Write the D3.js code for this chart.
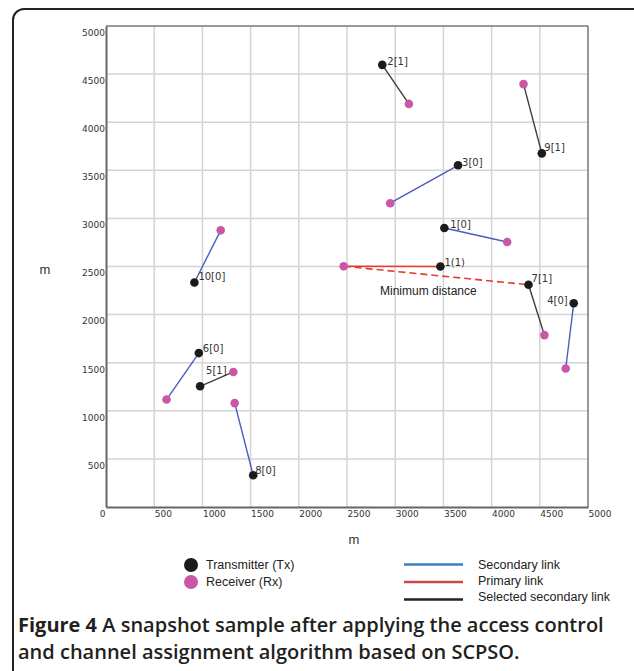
<!DOCTYPE html>
<html><head><meta charset="utf-8">
<script src="https://cdn.jsdelivr.net/npm/d3@7"></script>
<style>
html,body{margin:0;padding:0;background:#fff;}
svg{display:block;}
</style></head>
<body>
<svg id="chart" width="634" height="671"></svg>
<script>
// ---- data (metres) ----
const linkIds     = ["1[0]","2[1]","3[0]","4[0]","5[1]","6[0]","7[1]","8[0]","9[1]","10[0]"];
const linkTypes   = ["secondary","selected","secondary","secondary","selected","secondary","selected","secondary","selected","secondary"];
const txX = [3510, 2866, 3652, 4852,  976,  963, 4383, 1527, 4521,  917];
const txY = [2900, 4596, 3552, 2118, 1255, 1600, 2310,  330, 3676, 2334];
const rxX = [4162, 3142, 2948, 4769, 1321,  628, 4548, 1335, 4331, 1190];
const rxY = [2755, 4190, 3158, 1440, 1404, 1117, 1787, 1080, 4396, 2876];
const primaryLabel = "1(1)";
const primaryTx = [3469, 2500];
const primaryRx = [2466, 2503];
const minDistanceTo = "7[1]";
const tickValues = [0, 500, 1000, 1500, 2000, 2500, 3000, 3500, 4000, 4500, 5000];
const legendPoints = ["Transmitter (Tx)", "Receiver (Rx)"];
const legendLines  = ["Secondary link", "Primary link", "Selected secondary link"];
const captionBold = "Figure 4";
const captionLine1 = " A snapshot sample after applying the access control";
const captionLine2 = "and channel assignment algorithm based on SCPSO.";

// ---- layout / style ----
const labelOffsets = {"1[0]":[6,-4],"2[1]":[5,-3],"3[0]":[4,-3],"4[0]":[-6,-3],"5[1]":[6,-16],
  "6[0]":[4,-5],"7[1]":[3,-6],"8[0]":[2,-5],"9[1]":[2.5,-6],"10[0]":[4,-6],"1(1)":[4,-4]};
const linkColor = {secondary:"#4b5cc0", selected:"#3c3c3c"};
const TX = "#1b1b1b", RX = "#c957a6", RED = "#e63a2c";

const svg = d3.select("#chart");
// outer frame
svg.append("rect").attr("x",13).attr("y",9).attr("width",640).attr("height",720)
  .attr("rx",11).attr("fill","none").attr("stroke","#222").attr("stroke-width",2);

const x = d3.scaleLinear().domain([0,5000]).range([106,588]);
const y = d3.scaleLinear().domain([0,5000]).range([507,26]);

const g = svg.append("g");
// grid
g.selectAll("line.gx").data(tickValues.slice(1,-1)).join("line")
  .attr("x1",d=>x(d)).attr("x2",d=>x(d)).attr("y1",y(0)).attr("y2",y(5000))
  .attr("stroke","#d4d4d4").attr("stroke-width",1.5);
g.selectAll("line.gy").data(tickValues.slice(1,-1)).join("line")
  .attr("y1",d=>y(d)).attr("y2",d=>y(d)).attr("x1",x(0)).attr("x2",x(5000))
  .attr("stroke","#d4d4d4").attr("stroke-width",1.5);
// border
g.append("line").attr("x1",x(0)).attr("x2",x(5000)).attr("y1",y(5000)).attr("y2",y(5000)).attr("stroke","#777").attr("stroke-width",1.5);
g.append("line").attr("x1",x(5000)).attr("x2",x(5000)).attr("y1",y(0)).attr("y2",y(5000)).attr("stroke","#777").attr("stroke-width",1.5);

// axes
const fmt = d3.format("d");
const xAxis = d3.axisBottom(x).tickValues(tickValues).tickFormat(fmt).tickSize(0).tickPadding(0);
const ax = svg.append("g").attr("transform",`translate(0,${y(0)})`).call(xAxis);
ax.select(".domain").attr("stroke","#666").attr("stroke-width",2);
ax.selectAll("text").attr("font-family","DejaVu Sans").attr("font-size",9).attr("fill","#333")
  .attr("dy",null).attr("y",10).attr("text-anchor",d=>d===0?"end":"start").attr("x",d=>d===0?-1:0);
const yAxis = d3.axisLeft(y).tickValues(tickValues.slice(1)).tickFormat(fmt).tickSize(0).tickPadding(1);
const ay = svg.append("g").attr("transform",`translate(${x(0)},0)`).call(yAxis);
ay.select(".domain").attr("stroke","#666").attr("stroke-width",2);
ay.selectAll("text").attr("font-family","DejaVu Sans").attr("font-size",9).attr("fill","#333")
  .attr("dy","0.32em").attr("y",6.5);

// axis titles
svg.append("text").attr("x",45).attr("y",274).attr("text-anchor","middle")
  .attr("font-family","Liberation Sans").attr("font-size",13).attr("fill","#333").text("m");
svg.append("text").attr("x",354).attr("y",544).attr("text-anchor","middle")
  .attr("font-family","Liberation Sans").attr("font-size",13).attr("fill","#333").text("m");

// links data
const links = linkIds.map((id,i)=>({id, type:linkTypes[i], tx:[txX[i],txY[i]], rx:[rxX[i],rxY[i]]}));

// link lines
svg.append("g").selectAll("line").data(links).join("line")
  .attr("x1",d=>x(d.tx[0])).attr("y1",d=>y(d.tx[1])).attr("x2",d=>x(d.rx[0])).attr("y2",d=>y(d.rx[1]))
  .attr("stroke",d=>linkColor[d.type]).attr("stroke-width",1.4);

// primary link
svg.append("line").attr("x1",x(primaryRx[0])).attr("y1",y(primaryRx[1])).attr("x2",x(primaryTx[0])).attr("y2",y(primaryTx[1]))
  .attr("stroke",RED).attr("stroke-width",1.4);
const target = links.find(l=>l.id===minDistanceTo);
svg.append("line").attr("x1",x(primaryRx[0])).attr("y1",y(primaryRx[1])).attr("x2",x(target.tx[0])).attr("y2",y(target.tx[1]))
  .attr("stroke",RED).attr("stroke-width",1.6).attr("stroke-dasharray","7,4");
svg.append("text").attr("x",380).attr("y",295).attr("font-family","Liberation Sans").attr("font-size",12)
  .attr("fill","#222").text("Minimum distance");

// points
const R = 4.3;
svg.append("g").selectAll("circle").data(links).join("circle")
  .attr("cx",d=>x(d.rx[0])).attr("cy",d=>y(d.rx[1])).attr("r",R).attr("fill",RX);
svg.append("circle").attr("cx",x(primaryRx[0])).attr("cy",y(primaryRx[1])).attr("r",R).attr("fill",RX);
svg.append("g").selectAll("circle").data(links).join("circle")
  .attr("cx",d=>x(d.tx[0])).attr("cy",d=>y(d.tx[1])).attr("r",R).attr("fill",TX);
svg.append("circle").attr("cx",x(primaryTx[0])).attr("cy",y(primaryTx[1])).attr("r",R).attr("fill",TX);

// point labels
const labelData = links.map(l=>({id:l.id, p:l.tx})).concat([{id:primaryLabel, p:primaryTx}]);
svg.append("g").selectAll("text").data(labelData).join("text")
  .attr("x",d=>x(d.p[0])+labelOffsets[d.id][0]).attr("y",d=>y(d.p[1])+labelOffsets[d.id][1])
  .attr("dy","0.35em").attr("text-anchor",d=>labelOffsets[d.id][0]<0?"end":"start")
  .attr("font-family","DejaVu Sans").attr("font-size",10).attr("fill","#333").text(d=>d.id);

// legend
const lg = svg.append("g").attr("font-family","Liberation Sans").attr("font-size",12.5).attr("fill","#222");
lg.selectAll("circle").data(legendPoints).join("circle")
  .attr("cx",191).attr("cy",(d,i)=>565+i*17).attr("r",7).attr("fill",(d,i)=>i===0?TX:RX);
lg.selectAll("text.p").data(legendPoints).join("text").attr("class","p")
  .attr("x",206).attr("y",(d,i)=>565+i*17).attr("dy","0.35em").text(d=>d);
const legCols = ["#3b7ec4","#c8474c","#222"];
lg.selectAll("line").data(legendLines).join("line")
  .attr("x1",404).attr("x2",463).attr("y1",(d,i)=>564.5+i*17.5).attr("y2",(d,i)=>564.5+i*17.5)
  .attr("stroke",(d,i)=>legCols[i]).attr("stroke-width",2.5);
lg.selectAll("text.l").data(legendLines).join("text").attr("class","l")
  .attr("x",478).attr("y",(d,i)=>565+i*16).attr("dy","0.35em").text(d=>d);

// caption
const cap = svg.append("g").attr("font-family","Open Sans").attr("fill","#231f20").attr("font-weight",700);
const t1 = cap.append("text").attr("x",18).attr("y",632).attr("font-size",19);
t1.append("tspan").text(captionBold);
t1.append("tspan").attr("font-weight",600).text(captionLine1);
const t2 = cap.append("text").attr("x",18).attr("y",659).attr("font-size",19).attr("font-weight",600).text(captionLine2);
const w = t1.node().getComputedTextLength();
const fs = 19*586/w;
t1.attr("font-size",fs); t2.attr("font-size",fs);
</script>
</body></html>
